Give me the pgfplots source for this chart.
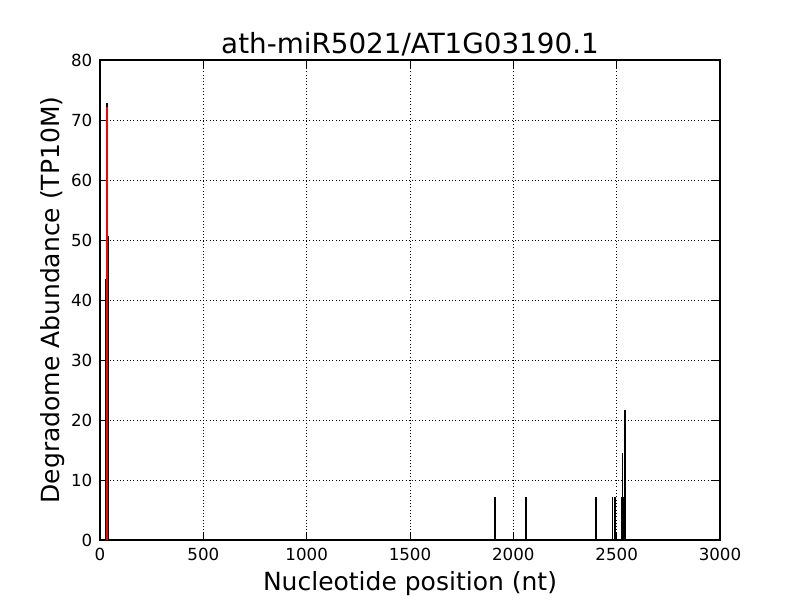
\documentclass[border=0pt]{standalone}
\usepackage{fontspec}
\setmainfont{DejaVu Sans}
\usepackage{pgfplots}
\pgfplotsset{compat=1.18}
\begin{document}
\begin{tikzpicture}
\useasboundingbox (0,0) rectangle (576bp,432bp);
\begin{axis}[
  at={(72bp,43.2bp)}, anchor=south west,
  scale only axis, width=446.4bp, height=345.6bp,
  xmin=0, xmax=3000, ymin=0, ymax=80,
  xtick={0,500,...,3000}, ytick={0,10,...,80},
  grid=major, major grid style={black, dotted, line width=0.6bp},
  tick align=inside, tick pos=both,
  major tick length=5.8bp,
  tick style={black, line width=0.7bp},
  axis line style={line width=0.8bp},
  /pgf/number format/assume math mode=true,
  /pgf/number format/1000 sep={},
  ticklabel style={font=\fontsize{12bp}{14bp}\selectfont},
  xticklabel style={yshift=-2bp},
  yticklabel style={xshift=-2bp},
  title={ath-miR5021/AT1G03190.1},
  title style={font=\fontsize{20bp}{24bp}\selectfont, yshift=-7bp},
  xlabel={Nucleotide position (nt)},
  ylabel={Degradome Abundance (TP10M)},
  label style={font=\fontsize{18bp}{21bp}\selectfont},
  xlabel style={yshift=-1bp},
  ylabel style={yshift=-2bp},
]
\addplot[ycomb, black, line width=1.1bp, mark=none] coordinates {
 (26,43.44) (33,72.9) (40,50.68)
 (1912,7.24) (2062,7.24) (2401,7.24) (2479,7.24) (2492,7.24)
 (2524,7.24) (2529,14.48) (2535,7.24) (2541,21.72)
};
\addplot[ycomb, red, line width=1.5bp, mark=none] coordinates {
 (33,72.2)
};
\end{axis}
\end{tikzpicture}
\end{document}
